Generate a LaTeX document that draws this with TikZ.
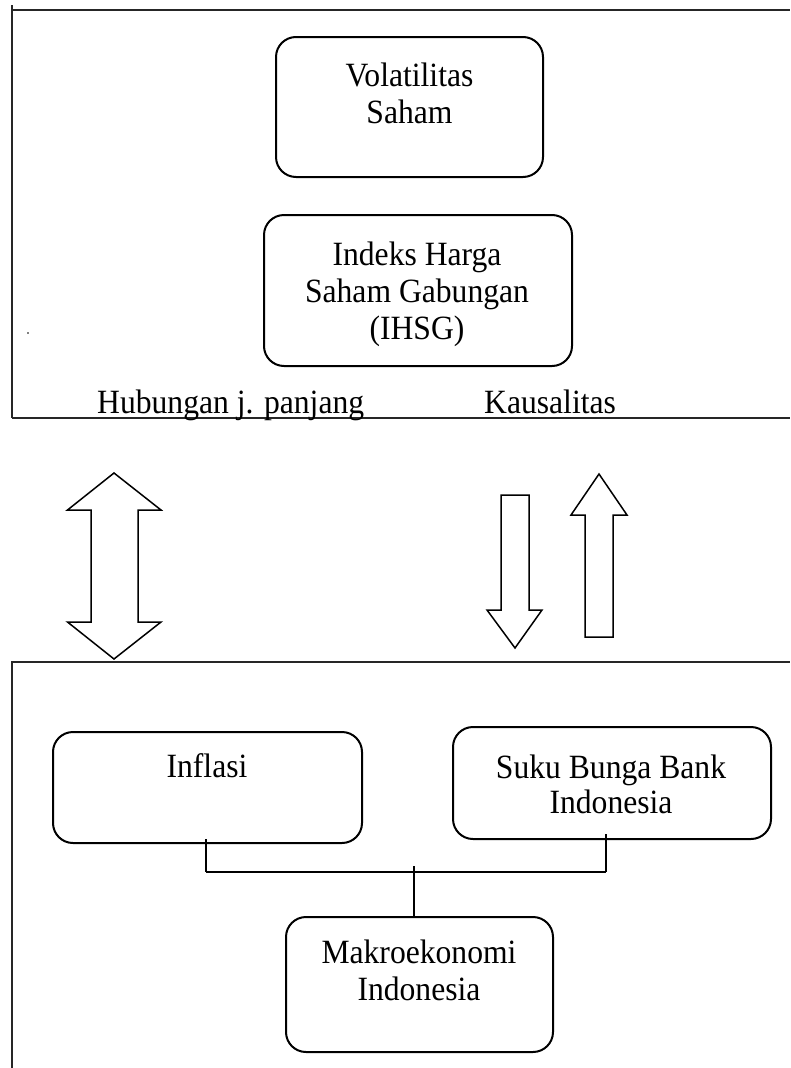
\documentclass[tikz,border=0pt]{standalone}
\usepackage{fontspec}
\setmainfont{Liberation Serif}
\newfontfamily\tallserif[FakeStretch=0.93]{Liberation Serif}
\begin{document}
\begin{tikzpicture}[x=1pt,y=-1pt,
  frame/.style={line width=2pt,draw=black!85},
  box/.style={draw,line width=2pt,rounded corners=20pt,inner sep=0pt},
  txt/.style={align=center,inner sep=0pt,anchor=north,font=\tallserif\fontsize{34}{37}\selectfont},
  blockarrow/.style={draw,line width=1.5pt,fill=white,line join=miter},
  link/.style={line width=1.5pt}]
\useasboundingbox (0,0) rectangle (790,1068);
% frames
\draw[frame] (12,5) -- (12,418);
\draw[frame] (12,10) -- (790,10);
\draw[frame] (12,418) -- (790,418);
\draw[frame] (12,1068) -- (12,662) -- (790,662);
\fill (28,333) circle (0.9pt);
% boxes
\node[box,minimum width=267pt,minimum height=140pt] (vol) at (409.5,107) {};
\node[txt] (volt) at (409.5,62.5) {Volatilitas\\Saham};
\node[box,minimum width=308pt,minimum height=151pt] (ihsg) at (418,290.5) {};
\node[txt] (ihsgt) at (417,242) {Indeks Harga\\Saham Gabungan\\(IHSG)};
\node[txt,anchor=base west] (hub) at (97,413) {Hubungan j. panjang};
\node[txt,anchor=base west] (kaus) at (484,413) {Kausalitas};
\node[box,minimum width=309pt,minimum height=111pt] (infl) at (207.5,787.5) {};
\node[txt] (inflt) at (207,753.5) {Inflasi};
\node[box,minimum width=318pt,minimum height=112pt] (suku) at (612,783) {};
\node[txt,font=\tallserif\fontsize{34}{35}\selectfont] (sukut) at (611,754.5) {Suku Bunga Bank\\Indonesia};
\node[box,minimum width=267pt,minimum height=135pt] (makro) at (419.5,984.5) {};
\node[txt] (makrot) at (419,940) {Makroekonomi\\Indonesia};
% connectors
\coordinate (jl) at (206,872);
\coordinate (jr) at (606,872);
\coordinate (jm) at (414,866);
\draw[link] ([yshift=5pt]jl |- infl.south) -- (jl);
\draw[link] ([yshift=6pt]jr |- suku.south) -- (jr);
\draw[link] (jl) -- (jr);
\draw[link] (jm) -- (jm |- makro.north);
% block arrows
\draw[blockarrow] (114,473) -- (161,510) -- (138,510) -- (138,622) -- (161,622) -- (114,659)
  -- (67.5,622) -- (91,622) -- (91,510) -- (67.5,510) -- cycle;
\draw[blockarrow] (501,495) -- (529,495) -- (529,610) -- (542,610) -- (515,648)
  -- (487,610) -- (501,610) -- cycle;
\draw[blockarrow] (599,474) -- (627,515) -- (613,515) -- (613,637) -- (585,637)
  -- (585,515) -- (571,515) -- cycle;
\end{tikzpicture}
\end{document}
